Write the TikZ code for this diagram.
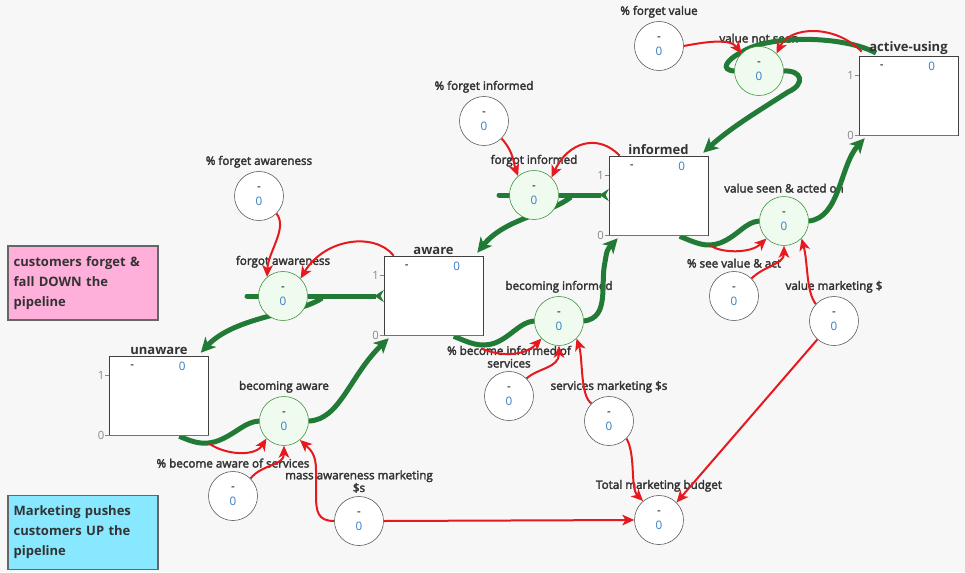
\documentclass[tikz,border=0pt]{standalone}
\usepackage{fontspec}
\setmainfont{Open Sans}
\newfontfamily\semib[FakeBold=2.6]{Open Sans}
\usetikzlibrary{arrows.meta,calc}
\definecolor{bgc}{HTML}{F7F7F7}
\definecolor{gfl}{HTML}{217A35}
\definecolor{rdl}{HTML}{E5191E}
\definecolor{valblue}{HTML}{3A7FC1}
\definecolor{lbltxt}{HTML}{333333}
\definecolor{flowfill}{HTML}{F0FBF0}
\definecolor{flowedge}{HTML}{2E8B2E}
\definecolor{notepink}{HTML}{FFB0DA}
\definecolor{notecyan}{HTML}{88E8FF}
\definecolor{axgray}{HTML}{888888}
\definecolor{notedge}{HTML}{666666}
\pgfdeclarelayer{back}
\pgfdeclarelayer{lbls}
\pgfdeclarelayer{edges}
\pgfsetlayers{back,lbls,edges,main}
\begin{document}
\begin{tikzpicture}[x=0.75pt,y=-0.75pt,
  conv/.style={circle,draw=black!70,fill=white,minimum size=36.75pt,inner sep=0pt,align=center,
    font=\fontsize{8.75}{11.25}\selectfont},
  flowc/.style={conv,draw=flowedge,fill=flowfill},
  lbl/.style={font=\semib\fontsize{8.75}{9.5}\selectfont,text=lbltxt,align=center,inner sep=1pt},
  stock/.style={rectangle,draw=black!75,fill=white,minimum width=74.25pt,minimum height=59.25pt,inner sep=0pt},
  stitle/.style={font=\bfseries\fontsize{9.75}{10}\selectfont,text=lbltxt,inner sep=1pt},
  sval/.style={font=\fontsize{8.75}{10}\selectfont,inner sep=0pt},
  axl/.style={font=\fontsize{8.5}{9}\selectfont,text=axgray,inner sep=0.5pt},
  axline/.style={draw=axgray,line width=0.6pt},
  sbottom/.style={draw=valblue,line width=0.8pt},
  note/.style={rectangle,draw=notedge,line width=0.8pt,minimum width=112.5pt,minimum height=55.5pt,
    text width=104pt,align=left,inner sep=0pt,font=\bfseries\fontsize{9.75}{15}\selectfont,text=lbltxt},
  gflow/.style={draw=gfl,line width=3.75pt},
  gtip/.style={-{Stealth[length=11pt,width=11pt,inset=3pt]}},
  rflow/.style={draw=rdl,line width=1.5pt,-{Stealth[length=9pt,width=8pt,inset=2.5pt]}},
]
\begin{pgfonlayer}{back}
\fill[bgc] (0,0) rectangle (965,572);
\end{pgfonlayer}
\useasboundingbox (0,0) rectangle (965,572);

% notes
\node[note,fill=notepink] (note1) at (83,283) {customers forget \&\\fall DOWN the\\pipeline};
\node[note,fill=notecyan] (note2) at (83,532.5) {Marketing pushes\\customers UP the\\pipeline};

% stocks
\node[stock] (unaware) at (159,395.5) {};
\node[stock] (aware) at (433.5,295.5) {};
\node[stock] (informed) at (658.5,195.5) {};
\node[stock] (active) at (908.5,95.5) {};
\foreach \s/\t in {unaware/unaware,aware/aware,informed/informed,active/active-using}{
  \node[stitle,above] (\s-t) at (\s.north) {\t};
  \draw[sbottom] (\s.south west) -- (\s.south east);
  \node[sval] (\s-d) at ($(\s.north west)+(23,11)$) {-};
  \node[sval,text=valblue] (\s-v) at ($(\s.north west)+(73,11)$) {0};
  \draw[axline] ($(\s.north west)+(-4,20)$) -- ($(\s.north west)+(0,20)$);
  \draw[axline] ($(\s.south west)+(-4,0)$) -- ($(\s.south west)+(0,0)$);
  \node[axl,left] (\s-a1) at ($(\s.north west)+(-4,20)$) {1};
  \node[axl,left] (\s-a0) at ($(\s.south west)+(-4,0)$) {0};
}

% converters
\node[conv] (pfa) at (259,196) {-\\\textcolor{valblue}{0}};
\node[conv] (pfi) at (484,121) {-\\\textcolor{valblue}{0}};
\node[conv] (pfv) at (659,46) {-\\\textcolor{valblue}{0}};
\node[conv] (pba) at (233,496) {-\\\textcolor{valblue}{0}};
\node[conv] (mam) at (359,521) {-\\\textcolor{valblue}{0}};
\node[conv] (pbi) at (509,396) {-\\\textcolor{valblue}{0}};
\node[conv] (smm) at (609,421) {-\\\textcolor{valblue}{0}};
\node[conv] (tmb) at (659,520) {-\\\textcolor{valblue}{0}};
\node[conv] (psv) at (734,296) {-\\\textcolor{valblue}{0}};
\node[conv] (vm) at (834,321) {-\\\textcolor{valblue}{0}};
% flows
\node[flowc] (fa) at (283,296) {-\\\textcolor{valblue}{0}};
\node[flowc] (ba) at (284,421) {-\\\textcolor{valblue}{0}};
\node[flowc] (fi) at (534,195) {-\\\textcolor{valblue}{0}};
\node[flowc] (bi) at (559,321) {-\\\textcolor{valblue}{0}};
\node[flowc] (vns) at (759,71) {-\\\textcolor{valblue}{0}};
\node[flowc] (vsa) at (784,221) {-\\\textcolor{valblue}{0}};

\begin{pgfonlayer}{lbls}
\node[lbl,above=1.5pt] (pfa-l) at (pfa.north) {\% forget awareness};
\node[lbl,above=1.5pt] (pfi-l) at (pfi.north) {\% forget informed};
\node[lbl,above=1.5pt] (pfv-l) at (pfv.north) {\% forget value};
\node[lbl,above=1.5pt] (pba-l) at (pba.north) {\% become aware of services};
\node[lbl,above=1.5pt] (mam-l) at (mam.north) {mass awareness marketing\\\$s};
\node[lbl,above=1.5pt] (pbi-l) at (pbi.north) {\% become informed of\\services};
\node[lbl,above=1.5pt] (smm-l) at (smm.north) {services marketing \$s};
\node[lbl,above=1.5pt] (tmb-l) at (tmb.north) {Total marketing budget};
\node[lbl,above=1.5pt] (psv-l) at (psv.north) {\% see value \& act};
\node[lbl,above=1.5pt] (vm-l) at (vm.north) {value marketing \$};
\node[lbl,above=1.5pt] (fa-l) at (fa.north) {forgot awareness};
\node[lbl,above=1.5pt] (ba-l) at (ba.north) {becoming aware};
\node[lbl,above=1.5pt] (fi-l) at (fi.north) {forgot informed};
\node[lbl,above=1.5pt] (bi-l) at (bi.north) {becoming informed};
\node[lbl,above=1.5pt] (vns-l) at (vns.north) {value not seen};
\node[lbl,above=1.5pt] (vsa-l) at (vsa.north) {value seen \& acted on};
\end{pgfonlayer}

\begin{pgfonlayer}{edges}
% ---- green flows
% becoming aware
\draw[gflow] ($(unaware.south west)+(70,1)$) .. controls (195,443) and (205,446) .. (220,440)
   .. controls (238,432) and (245,422) .. (ba.west);
\draw[gflow,gtip] (ba.east) .. controls (340,420) and (350,375) .. ($(aware.south west)+(5,3)$);
% forgot awareness
\coordinate (fa-s) at (247,296);
\coordinate (fa-o) at (322,298);
\draw[gflow,line cap=round] (fa-s) -- (fa.west);
\draw[gflow,{Stealth[reversed,length=7pt,width=9pt]}-] (aware.west |- fa.center) -- (fa.east);
\draw[gflow,gtip] (fa-o) .. controls (300,314) and (235,316) .. ($(unaware.north east)+(-8,-3)$);
% forgot informed
\coordinate (fi-s) at (499,195);
\coordinate (fi-o) at (571,197);
\draw[gflow,line cap=round] (fi-s) -- (fi.west);
\draw[gflow,{Stealth[reversed,length=7pt,width=9pt]}-] (informed.west |- fi.center) -- (fi.east);
\draw[gflow,gtip] (fi-o) .. controls (550,214) and (505,218) .. ($(aware.north east)+(-6,-3)$);
% becoming informed
\draw[gflow] ($(aware.south west)+(70,1)$) .. controls (470,343) and (480,348) .. (495,343)
   .. controls (512,336) and (520,322) .. (bi.west);
\draw[gflow,gtip] (bi.east) .. controls (610,318) and (600,285) .. (605,262)
   .. controls (607,250) .. ($(informed.south west)+(9,3)$);
% value not seen
\coordinate (vns-s) at (876,53);
\draw[gflow] (vns-s) .. controls (845,36) and (770,34) .. (742,52)
   .. controls (726,60) and (720,70) .. (vns.west);
\draw[gflow,gtip] (vns.east) .. controls (802,70) and (806,84) .. (788,92)
   .. controls (760,110) and (730,128) .. ($(informed.north east)+(-5,-3)$);
% value seen & acted on
\draw[gflow] ($(informed.south west)+(71,1)$) .. controls (696,243) and (706,248) .. (720,243)
   .. controls (738,236) and (745,222) .. (vsa.west);
\draw[gflow,gtip] (vsa.east) .. controls (840,218) and (840,165) .. ($(active.south west)+(6,3)$);

% ---- red connectors
\draw[rflow] (pfa.-45) .. controls (288,228) and (268,252) .. (fa.130);
\draw[rflow] ($(aware.north west)+(10,0)$) .. controls (375,232) and (325,238) .. (fa.45);
\draw[rflow] (pfi.-45) .. controls (514,152) and (514,165) .. (fi.130);
\draw[rflow] ($(informed.north west)+(11,0)$) .. controls (598,133) and (568,142) .. (fi.45);
\draw[rflow] (pfv.east) .. controls (705,42) and (730,38) .. (vns.135);
\draw[rflow] ($(active.north west)+(3,-4)$) .. controls (835,24) and (790,26) .. (vns.45);
\draw[rflow] ($(unaware.south east)+(0,8)$) .. controls (225,455) and (255,457) .. (ba.225);
\draw[rflow] (pba.45) .. controls (262,464) and (284,466) .. (ba.270);
\draw[rflow] (mam.west) .. controls (318,521) and (316,512) .. (316,495)
   -- (316,470) .. controls (316,455) and (311,450) .. (ba.-50);
\draw[rflow] (mam.east) -- (tmb.west);
\draw[rflow] ($(aware.south east)+(-2,13)$) .. controls (500,357) and (525,356) .. (bi.225);
\draw[rflow] (pbi.45) .. controls (538,368) and (559,368) .. (bi.270);
\draw[rflow] (smm.135) .. controls (580,396) and (583,358) .. (bi.-45);
\draw[rflow] (smm.-45) .. controls (636,455) and (630,488) .. (tmb.130);
\draw[rflow] (vm.228) -- (tmb.45);
\draw[rflow] ($(informed.south east)+(2,10)$) .. controls (720,253) and (750,254) .. (vsa.225);
\draw[rflow] (psv.45) .. controls (764,266) and (784,264) .. (vsa.270);
\draw[rflow] (vm.137) .. controls (806,292) and (808,262) .. (vsa.-45);
\end{pgfonlayer}
\end{tikzpicture}
\end{document}
